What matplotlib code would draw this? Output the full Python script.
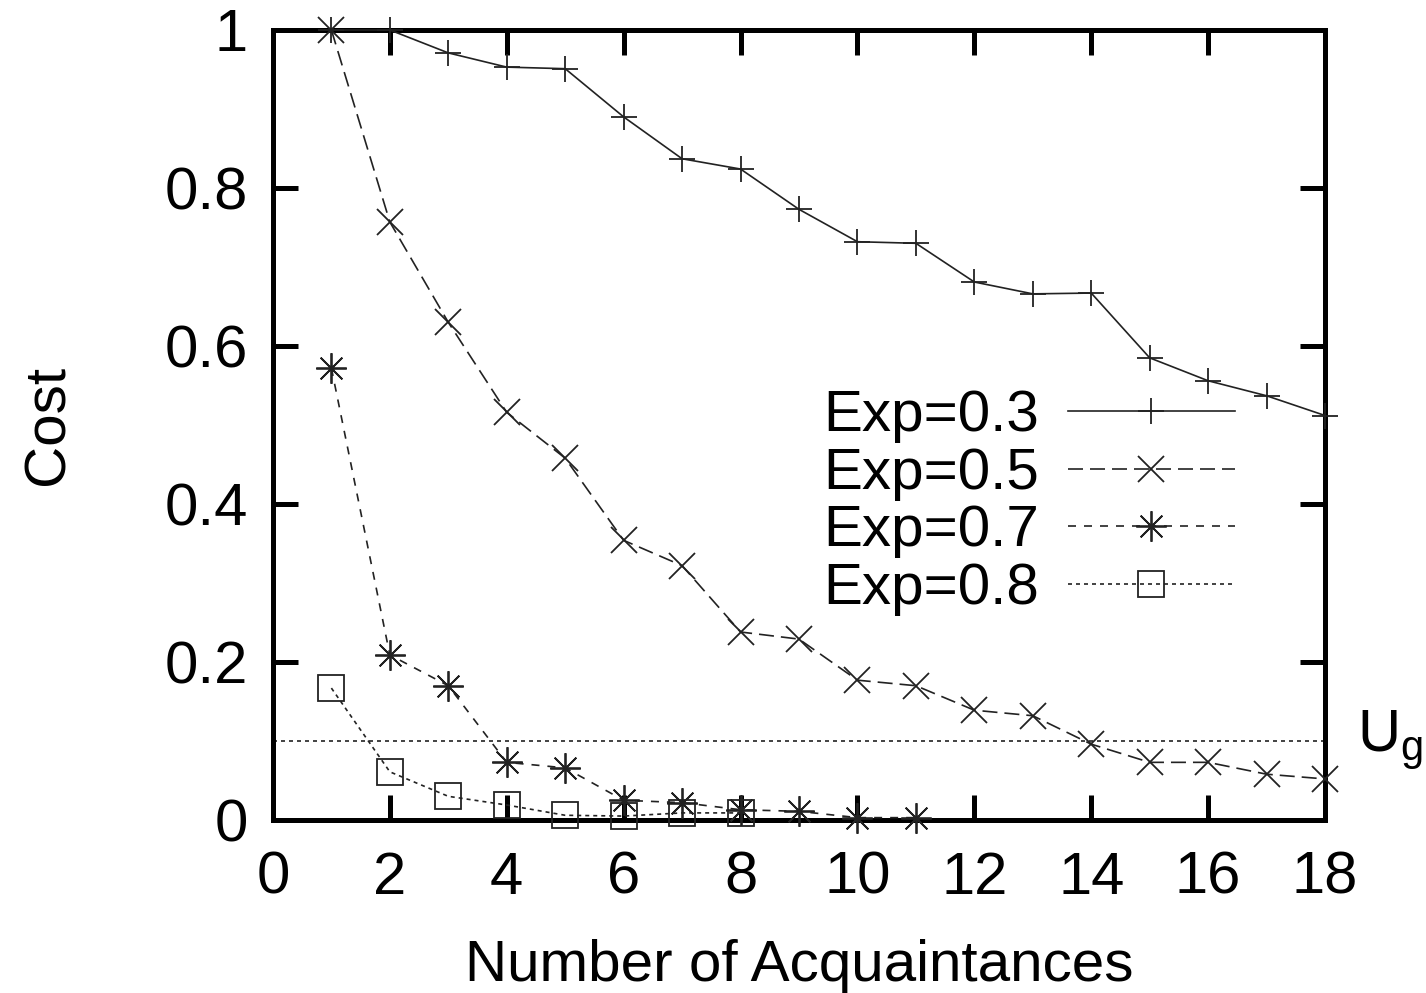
import numpy as np
import matplotlib
matplotlib.use('agg')
import matplotlib.pyplot as plt

# values
acq = np.arange(1, 19)
exp03 = [1.0, 1.0, 0.971, 0.953, 0.951, 0.890, 0.837, 0.824, 0.773, 0.732,
         0.730, 0.681, 0.666, 0.667, 0.585, 0.556, 0.537, 0.512]
exp05 = [1.0, 0.757, 0.630, 0.516, 0.458, 0.354, 0.322, 0.238, 0.229, 0.177,
         0.170, 0.139, 0.132, 0.096, 0.073, 0.073, 0.058, 0.052]
exp07 = [0.572, 0.209, 0.170, 0.073, 0.066, 0.025, 0.022, 0.013, 0.011, 0.003, 0.003]
exp08 = [0.167, 0.061, 0.030, 0.019, 0.006, 0.005, 0.009, 0.009]
u_g = 0.1

xticks = np.arange(0, 19, 2)
yticks = [0, 0.2, 0.4, 0.6, 0.8, 1]
ytick_labels = ['0', '0.2', '0.4', '0.6', '0.8', '1']

plt.rcParams['font.family'] = ['Liberation Sans', 'DejaVu Sans']

fig = plt.figure(figsize=(14.26, 9.93), dpi=100)
ax = fig.add_axes([0.1914, 0.1742, 0.7378, 0.7956])

col = '#222222'
lw = 1.2
ms = 19
aster = (8, 2, 0)

ax.plot(acq[:len(exp03)], exp03, color=col, lw=lw, ls='-', marker='+', ms=ms,
        mew=1.3, clip_on=False, label='Exp=0.3', zorder=3)
ax.plot(acq[:len(exp05)], exp05, color=col, lw=lw, ls=(0, (9, 4.2)), marker='x',
        ms=ms, mew=1.3, clip_on=False, label='Exp=0.5', zorder=3)
ax.plot(acq[:len(exp07)], exp07, color=col, lw=lw, ls=(0, (4.8, 4.8)), marker=aster,
        ms=ms + 3, mew=1.3, clip_on=False, label='Exp=0.7', zorder=3)
ax.plot(acq[:len(exp08)], exp08, color=col, lw=lw, ls=(0, (2.4, 2.4)), marker='s',
        ms=ms, mew=1.3, mfc='none', clip_on=False, label='Exp=0.8', zorder=3)

ax.axhline(u_g, color=col, lw=lw, ls=(0, (2.4, 2.4)), zorder=2)
ax.text(18.55, u_g, r'U$_{\mathregular{g}}$', fontsize=43, va='center', ha='left',
        clip_on=False)

ax.set_xlim(0, 18)
ax.set_ylim(0, 1)
ax.set_xticks(xticks)
ax.set_yticks(yticks)
ax.set_yticklabels(ytick_labels)

for s in ax.spines.values():
    s.set_linewidth(3.6)
ax.tick_params(direction='in', length=18, width=3.6, labelsize=43,
               top=True, right=True)
ax.tick_params(axis='x', pad=22)
ax.tick_params(axis='y', pad=18)

ax.set_xlabel('Number of Acquaintances', fontsize=42, labelpad=24)
ax.set_ylabel('Cost', fontsize=42, labelpad=64)

leg = ax.legend(loc='upper right', bbox_to_anchor=(0.914, 0.545), frameon=False,
                markerfirst=False, fontsize=42, handlelength=2.85,
                labelspacing=0.06, handletextpad=0.5, borderaxespad=0,
                borderpad=0)

fig.savefig('out.png', dpi=100)
